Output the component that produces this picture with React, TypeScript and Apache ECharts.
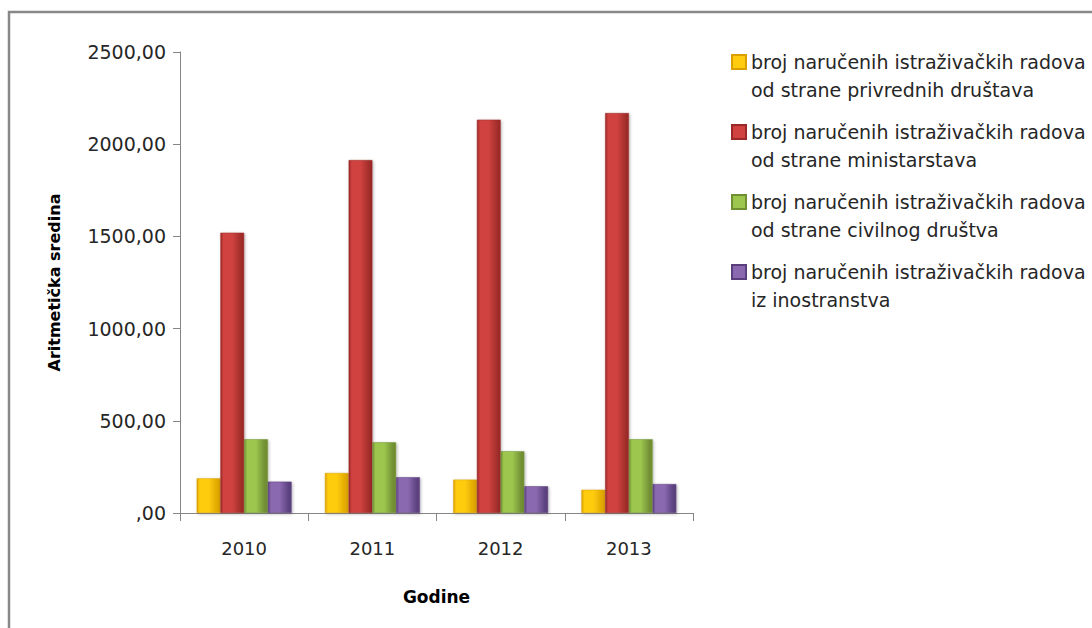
import React, { useEffect, useRef } from "react";
import * as echarts from "echarts";

const categories = ["2010", "2011", "2012", "2013"];
const seriesNames = [
  "broj naručenih istraživačkih radova\nod strane privrednih društava",
  "broj naručenih istraživačkih radova\nod strane ministarstava",
  "broj naručenih istraživačkih radova\nod strane civilnog društva",
  "broj naručenih istraživačkih radova\niz inostranstva",
];
const privredna = [188, 217, 181, 126];
const ministarstva = [1520, 1914, 2133, 2169];
const civilno = [400, 383, 335, 400];
const inostranstvo = [170, 194, 145, 157];
const yTicks = [0, 500, 1000, 1500, 2000, 2500];

const colors = [
  ["#D9A000", "#FFCC10", "#E0A800"],
  ["#9A2826", "#CF4240", "#A02D2A"],
  ["#6F8F30", "#9CC64E", "#738F34"],
  ["#5A3F7D", "#8A69B0", "#5D4280"],
];

const FONT = "'DejaVu Sans', sans-serif";

function grad(c: string[]) {
  return new echarts.graphic.LinearGradient(0, 0, 1, 0, [
    { offset: 0, color: c[0] },
    { offset: 0.12, color: c[1] },
    { offset: 0.5, color: c[1] },
    { offset: 0.88, color: c[2] },
    { offset: 1, color: c[0] },
  ]);
}

export default function App() {
  const ref = useRef<HTMLDivElement>(null);
  useEffect(() => {
    document.body.style.margin = "0";
    const chart = echarts.init(ref.current!, null, { renderer: "svg" });
    const data = [privredna, ministarstva, civilno, inostranstvo];
    chart.setOption({
      animation: false,
      backgroundColor: "#ffffff",
      graphic: [
        {
          type: "polyline",
          shape: { points: [[9, 640], [9, 12], [1100, 12]] },
          style: { stroke: "#888888", lineWidth: 2.5, fill: null },
          silent: true,
        },
      ],
      legend: {
        orient: "vertical",
        left: 726,
        top: 43,
        itemWidth: 14,
        itemHeight: 42,
        itemGap: 14,
        icon: "path://M0,0L14,0L14,14L0,14Z M0,42L0.01,42",
        textStyle: {
          fontFamily: FONT,
          fontSize: 19,
          color: "#262626",
          lineHeight: 28,
        },
        data: seriesNames.map((n, i) => ({
          name: n,
          itemStyle: { color: colors[i][1] },
        })),
      },
      grid: { left: 180, top: 52, width: 513, height: 461, containLabel: false },
      xAxis: {
        type: "category",
        data: categories,
        name: "Godine",
        nameLocation: "middle",
        nameGap: 75,
        nameTextStyle: {
          fontFamily: FONT,
          fontSize: 17,
          fontWeight: "bold",
          color: "#000000",
        },
        axisLine: { lineStyle: { color: "#868686", width: 1 } },
        axisTick: { show: true, length: 8, lineStyle: { color: "#868686" } },
        axisLabel: {
          fontFamily: FONT,
          fontSize: 18,
          color: "#262626",
          margin: 26,
        },
      },
      yAxis: {
        type: "value",
        min: 0,
        max: 2500,
        interval: 500,
        name: "Aritmetička sredina",
        nameLocation: "middle",
        nameGap: 118,
        nameRotate: 90,
        nameTextStyle: {
          fontFamily: FONT,
          fontSize: 16,
          fontWeight: "bold",
          color: "#000000",
        },
        axisLine: { show: true, lineStyle: { color: "#868686", width: 1 } },
        axisTick: { show: true, length: 7, lineStyle: { color: "#868686" } },
        splitLine: { show: false },
        axisLabel: {
          fontFamily: FONT,
          fontSize: 19,
          color: "#262626",
          margin: 14,
          formatter: (v: number) =>
            yTicks.includes(v) ? (v === 0 ? ",00" : v + ",00") : "",
        },
      },
      series: data.map((d, i) => ({
        name: seriesNames[i],
        type: "bar",
        data: d,
        barGap: "0%",
        barCategoryGap: "26%",
        itemStyle: {
          color: grad(colors[i]),
          borderColor: colors[i][0],
          borderWidth: 0.5,
          shadowColor: "rgba(0,0,0,0.3)",
          shadowBlur: 3,
          shadowOffsetX: 1,
          shadowOffsetY: 1,
        },
      })),
    });
    return () => chart.dispose();
  }, []);
  return <div ref={ref} style={{ width: 1092, height: 628 }} />;
}
